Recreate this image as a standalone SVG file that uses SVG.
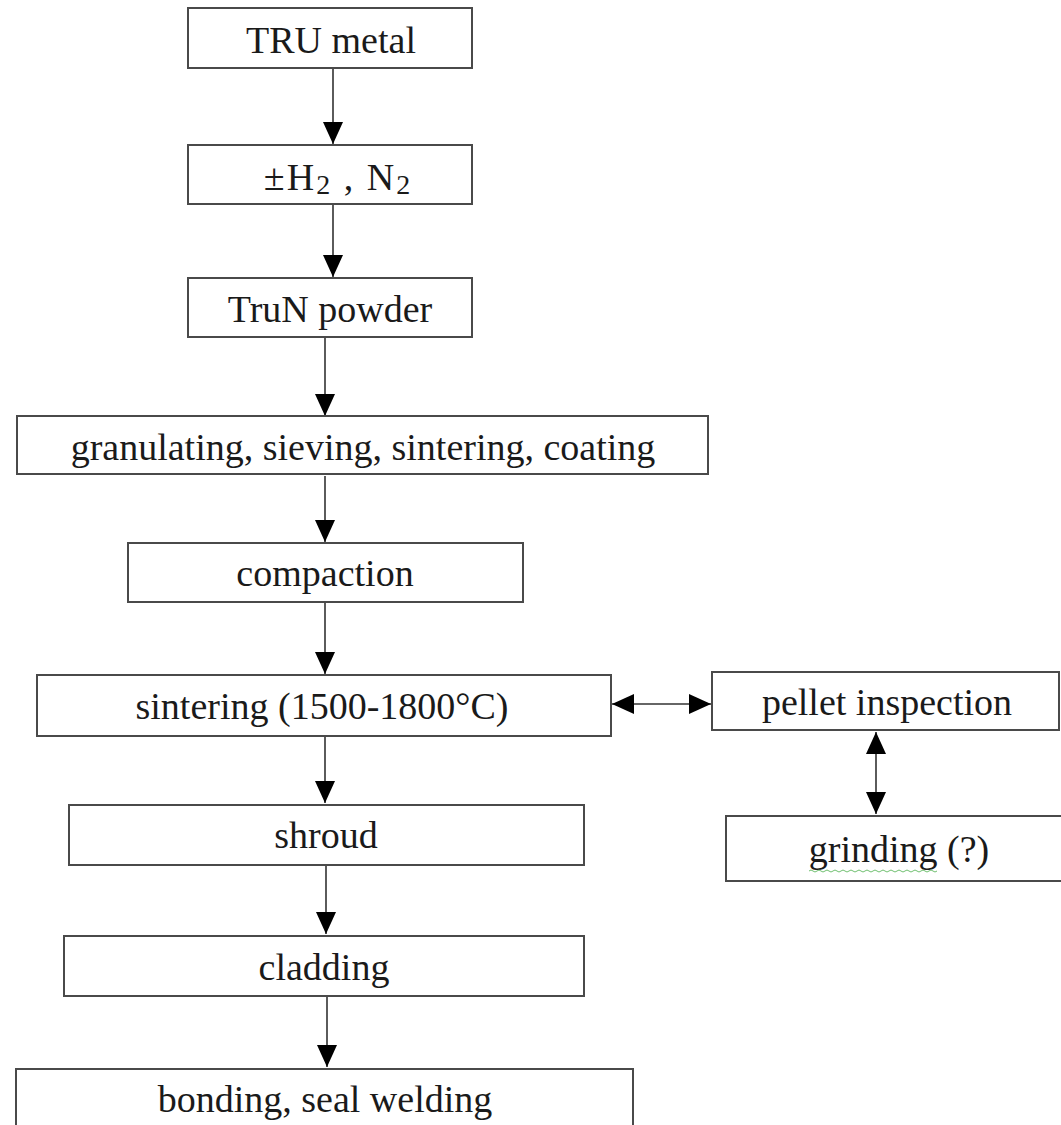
<svg xmlns="http://www.w3.org/2000/svg" width="1061" height="1125" viewBox="0 0 1061 1125">
<defs>
<style>
.box{fill:#fff;stroke:#4a4a4a;stroke-width:2}
.lbl{font-family:"Liberation Serif","Times New Roman",serif;font-size:38px;fill:#1a1a1a;text-anchor:middle}
.conn{stroke:#333;stroke-width:1.6;fill:none}
</style>
<marker id="ah" viewBox="0 0 22 20" refX="22" refY="10" markerWidth="22" markerHeight="20" markerUnits="userSpaceOnUse" orient="auto-start-reverse">
<path d="M0,0 L22,10 L0,20 Z" fill="#000"/>
</marker>
</defs>
<rect width="1061" height="1125" fill="#fff"/>
<g id="connectors">
<line class="conn" x1="333" y1="69" x2="333" y2="144" marker-end="url(#ah)"/>
<line class="conn" x1="333" y1="205" x2="333" y2="277" marker-end="url(#ah)"/>
<line class="conn" x1="325" y1="338" x2="325" y2="416" marker-end="url(#ah)"/>
<line class="conn" x1="325" y1="476" x2="325" y2="542" marker-end="url(#ah)"/>
<line class="conn" x1="325" y1="603" x2="325" y2="674" marker-end="url(#ah)"/>
<line class="conn" x1="325" y1="737" x2="325" y2="803" marker-end="url(#ah)"/>
<line class="conn" x1="326" y1="866" x2="326" y2="934" marker-end="url(#ah)"/>
<line class="conn" x1="327" y1="997" x2="327" y2="1067" marker-end="url(#ah)"/>
<line class="conn" x1="612" y1="704" x2="711" y2="704" marker-start="url(#ah)" marker-end="url(#ah)"/>
<line class="conn" x1="876" y1="732" x2="876" y2="814" marker-start="url(#ah)" marker-end="url(#ah)"/>
</g>
<g id="n1"><rect class="box" x="188" y="8" width="284" height="60"/><text class="lbl" x="331" y="53">TRU metal</text></g>
<g id="n2"><rect class="box" x="188" y="145" width="284" height="59"/><text class="lbl" x="338" y="190" letter-spacing="2">±H<tspan font-size="28" dy="4">2</tspan><tspan dy="-4"> , N</tspan><tspan font-size="28" dy="4">2</tspan></text></g>
<g id="n3"><rect class="box" x="188" y="278" width="284" height="59"/><text class="lbl" x="330" y="322">TruN powder</text></g>
<g id="n4"><rect class="box" x="17" y="416" width="691" height="58"/><text class="lbl" x="363" y="460">granulating, sieving, sintering, coating</text></g>
<g id="n5"><rect class="box" x="128" y="543" width="395" height="59"/><text class="lbl" x="325" y="586">compaction</text></g>
<g id="n6"><rect class="box" x="37" y="675" width="574" height="61"/><text class="lbl" x="322" y="719">sintering (1500-1800°C)</text></g>
<g id="n7"><rect class="box" x="712" y="672" width="347" height="58"/><text class="lbl" x="887" y="715">pellet inspection</text></g>
<g id="n8"><rect class="box" x="726" y="816" width="340" height="65"/><text class="lbl" x="899" y="862">grinding (?)</text><path d="M809,871 q2,-2 4,0 t4,0 t4,0 t4,0 t4,0 t4,0 t4,0 t4,0 t4,0 t4,0 t4,0 t4,0 t4,0 t4,0 t4,0 t4,0 t4,0 t4,0 t4,0 t4,0 t4,0 t4,0 t4,0 t4,0 t4,0 t4,0 t4,0 t4,0 t4,0 t4,0 t4,0 t4,0" fill="none" stroke="#6fbf6f" stroke-width="1"/></g>
<g id="n9"><rect class="box" x="69" y="805" width="515" height="60"/><text class="lbl" x="326" y="848">shroud</text></g>
<g id="n10"><rect class="box" x="64" y="936" width="520" height="60"/><text class="lbl" x="324" y="980">cladding</text></g>
<g id="n11"><rect class="box" x="16" y="1069" width="617" height="70"/><text class="lbl" x="325" y="1112">bonding, seal welding</text></g>
</svg>
